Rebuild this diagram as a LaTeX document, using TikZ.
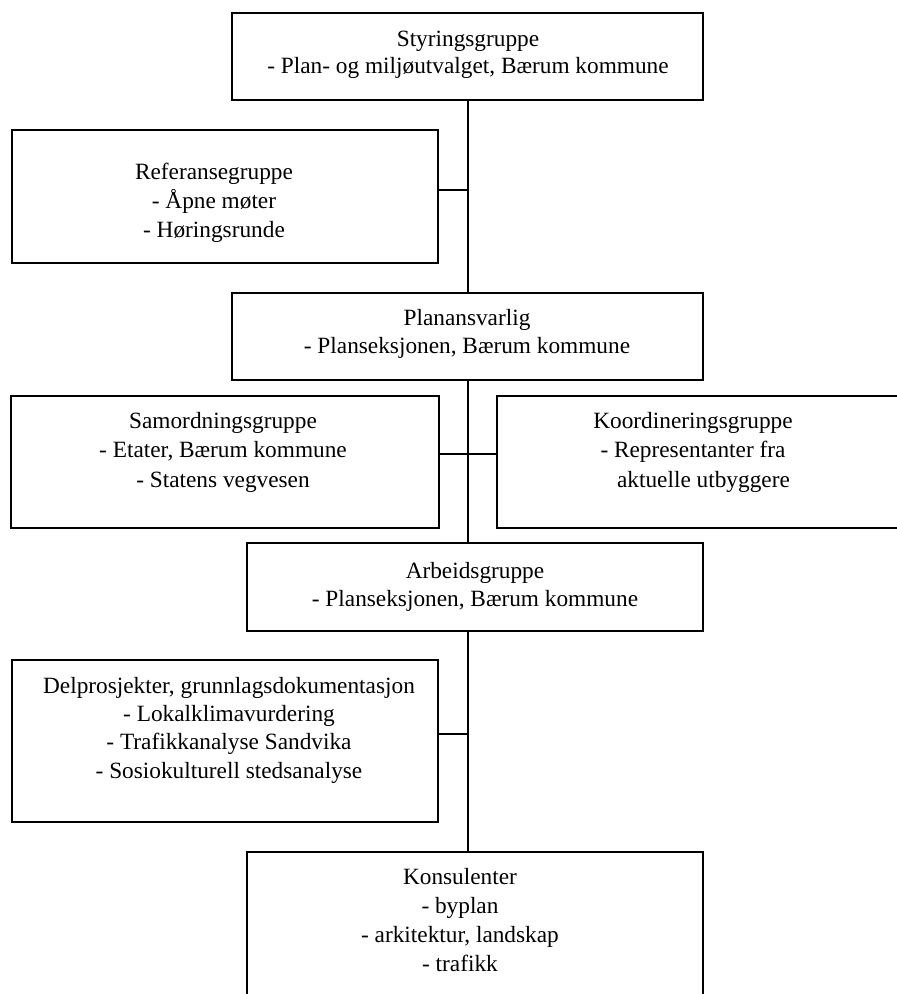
\documentclass[tikz,border=0pt]{standalone}
\usepackage{fontspec}
\setmainfont{Liberation Serif}
\newcommand{\fstrut}{\rule{0pt}{18pt}}
\begin{document}
\begin{tikzpicture}[x=1pt,y=-1pt,
  box/.style={draw=black, line width=2pt, fill=white, rectangle, inner sep=0pt},
  txt/.style={align=center, inner sep=0pt, anchor=north, font=\fontsize{23.3}{28.5}\selectfont},
  conn/.style={draw=black, line width=2pt}]
\clip (0,0) rectangle (897,994);
\fill[white] (0,0) rectangle (897,994);
% boxes
\node[box, minimum width=471pt, minimum height=87pt] (styr) at (467.5,56.5) {};
\node[box, minimum width=426pt, minimum height=133pt] (ref) at (225,196.5) {};
\node[box, minimum width=471pt, minimum height=87pt] (plan) at (467.5,336.5) {};
\node[box, minimum width=428pt, minimum height=132pt] (samo) at (225,462) {};
\node[box, minimum width=423pt, minimum height=132pt] (koor) at (708.5,462) {};
\node[box, minimum width=456pt, minimum height=88pt] (arb) at (475,587) {};
\node[box, minimum width=426pt, minimum height=162pt] (delp) at (225,741) {};
\node[box, minimum width=456pt, minimum height=158pt] (kons) at (475,931) {};
% texts
\node[txt, font=\fontsize{23.3}{27}\selectfont] (styrT) at (468,28) {\fstrut Styringsgruppe\\- Plan- og miljøutvalget, Bærum kommune};
\node[txt, font=\fontsize{23.3}{29}\selectfont] (refT) at (214,161) {\fstrut Referansegruppe\\- Åpne møter\\- Høringsrunde};
\node[txt] (planT) at (467,307) {\fstrut Planansvarlig\\- Planseksjonen, Bærum kommune};
\node[txt, font=\fontsize{23.3}{29.5}\selectfont] (samoT) at (223,410) {\fstrut Samordningsgruppe\\- Etater, Bærum kommune\\- Statens vegvesen};
\node[txt, font=\fontsize{23.3}{29.5}\selectfont] (koorT) at (693,410) {\fstrut Koordineringsgruppe\\- Representanter fra\\\hspace*{0.9em}aktuelle utbyggere};
\node[txt] (arbT) at (475,560) {\fstrut Arbeidsgruppe\\- Planseksjonen, Bærum kommune};
\node[txt, font=\fontsize{23.3}{28.3}\selectfont] (delpT) at (229,675) {\fstrut Delprosjekter, grunnlagsdokumentasjon\\- Lokalklimavurdering\\- Trafikkanalyse Sandvika\\- Sosiokulturell stedsanalyse};
\node[txt, font=\fontsize{23.3}{29}\selectfont] (konsT) at (460,866) {\fstrut Konsulenter\\- byplan\\- arkitektur, landskap\\- trafikk};
% connectors
\draw[conn] (styr.south) -- (plan.north);
\draw[conn] ([yshift=6.5pt]ref.east) -- ([yshift=6.5pt]ref.east -| styr.south);
\draw[conn] (plan.south) -- (plan.south |- arb.north);
\draw[conn] ([yshift=8pt]samo.east) -- ([yshift=8pt]samo.east -| koor.west);
\draw[conn] (arb.south -| plan.south) -- (kons.north -| plan.south);
\draw[conn] ([yshift=7pt]delp.east) -- ([yshift=7pt]delp.east -| plan.south);
\end{tikzpicture}
\end{document}
